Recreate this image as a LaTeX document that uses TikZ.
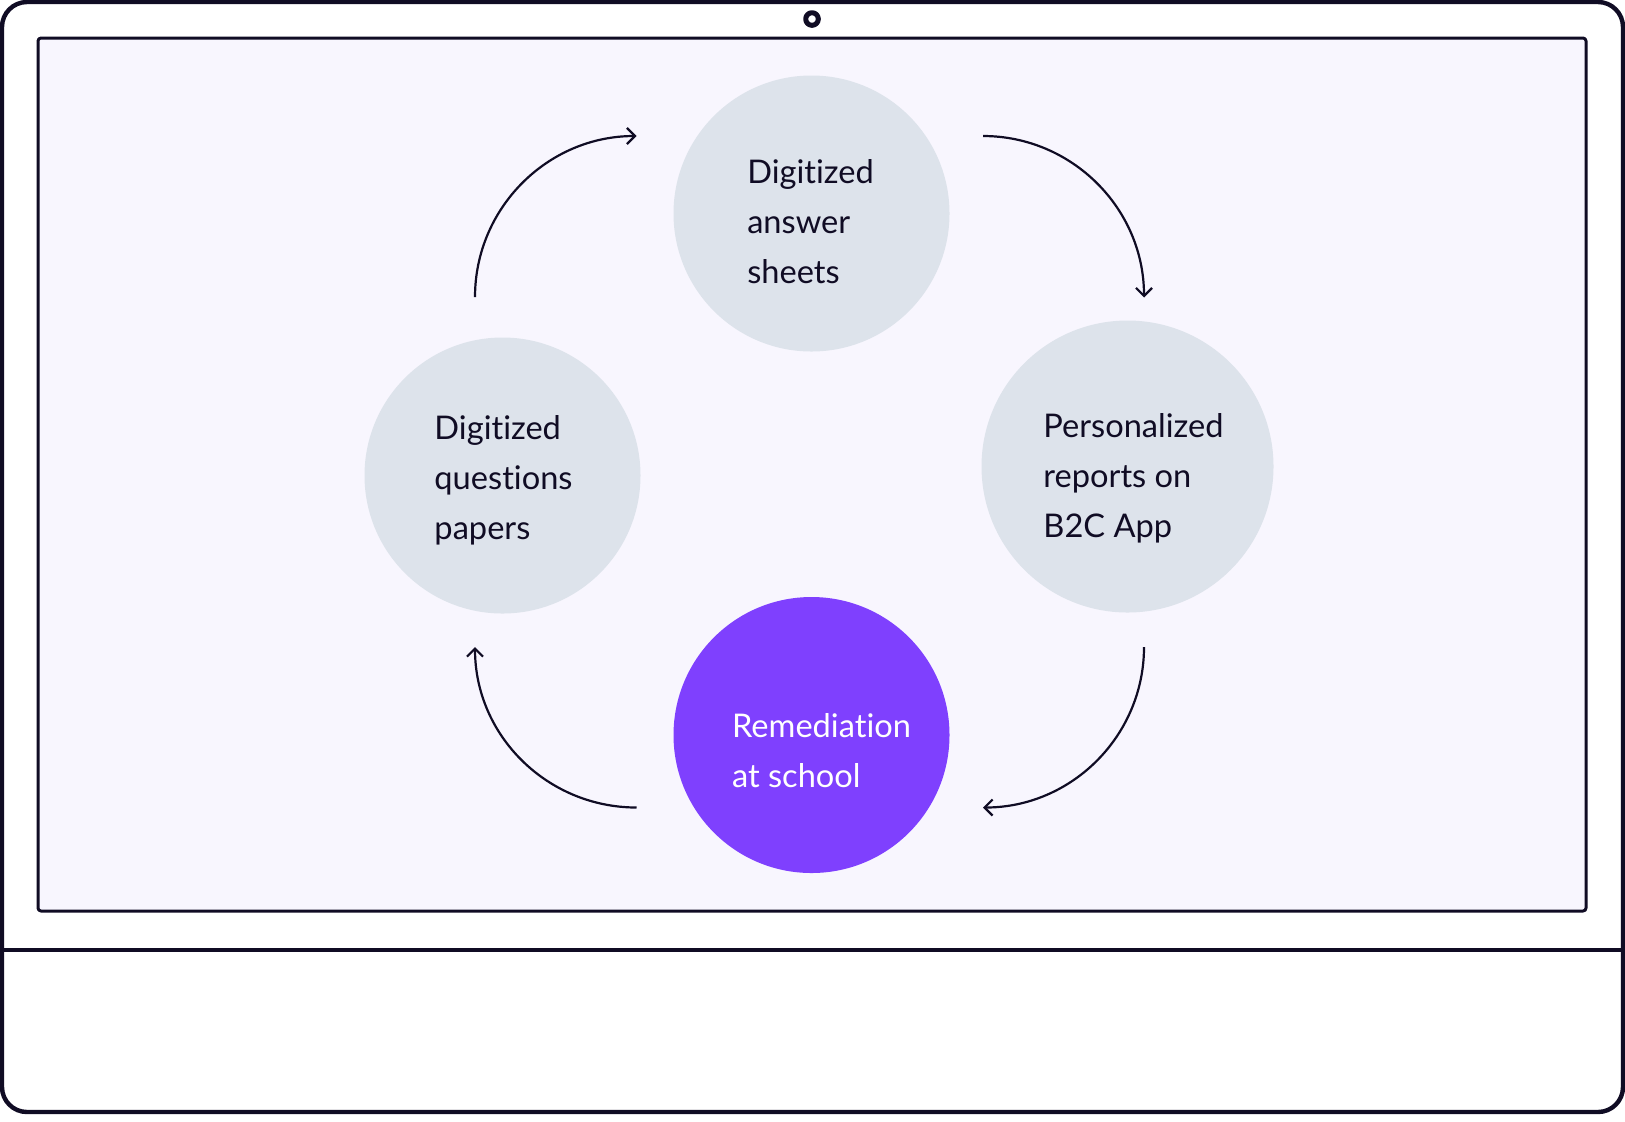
\documentclass[tikz,border=0pt]{standalone}
\usepackage{fontspec}
\setmainfont{Lato}[Ligatures=NoCommon]
\usetikzlibrary{arrows.meta}
\definecolor{ink}{RGB}{16, 12, 36}
\definecolor{screen}{RGB}{248, 246, 254}
\definecolor{bubble}{RGB}{221, 227, 235}
\definecolor{violet}{RGB}{127, 64, 254}

\begin{document}
\begin{tikzpicture}[x=0.5pt, y=-0.5pt, line join=round,
    bubble/.style={circle, fill=bubble, minimum size=138pt, inner sep=0pt},
    caption/.style={align=left, text=ink, inner sep=0pt, font=\fontsize{16.3}{25}\selectfont},
    flow/.style={ink, line width=1.1pt, -{Straight Barb[length=4pt, width=8pt]}}]
  \fill[white] (0, 0) rectangle (1625, 1121);
  \useasboundingbox (0, 0) rectangle (1625, 1121);

  % monitor
  \draw[ink, line width=2.2pt, rounded corners=12.5pt] (2, 2) rectangle (1623, 1112);
  \draw[ink, fill=screen, line width=1.5pt, rounded corners=1.5pt] (38, 38) rectangle (1586, 911);
  \draw[ink, line width=2pt] (2, 950) -- (1623, 950);
  \draw[ink, line width=2.5pt] (812, 19) circle[radius=6.3];

  % steps
  \node[bubble] (ans) at (811.5, 213.5) {};
  \node[bubble, minimum size=146pt] (rep) at (1127.5, 466.5) {};
  \node[bubble, fill=violet] (rem) at (811.5, 735) {};
  \node[bubble] (ques) at (502.5, 475.5) {};

  \node[caption] (ans-t) at ([shift={(-1, 8)}]ans) {Digitized\\answer\\sheets};
  \node[caption] (rep-t) at ([shift={(6, 12)}]rep) {Personalized\\reports on\\B2C App};
  \node[caption, text=white] (rem-t) at ([shift={(10, 16)}]rem) {Remediation\\at school};
  \node[caption] (ques-t) at ([shift={(1, 5)}]ques) {Digitized\\questions\\papers};

  \coordinate (a1) at (475, 297);
  \coordinate (a2) at (636.5, 136);
  \coordinate (b1) at (983, 136);
  \coordinate (b2) at (1144, 297.5);
  \coordinate (c1) at (1144, 647);
  \coordinate (c2) at (983, 807.5);
  \coordinate (d1) at (636.5, 807.5);
  \coordinate (d2) at (475, 647);

  \draw[flow] (a1) to[out=90, in=180] (a2);
  \draw[flow] (b1) to[out=0, in=90] (b2);
  \draw[flow] (c1) to[out=-90, in=0] (c2);
  \draw[flow] (d1) to[out=180, in=-90] (d2);
\end{tikzpicture}
\end{document}
